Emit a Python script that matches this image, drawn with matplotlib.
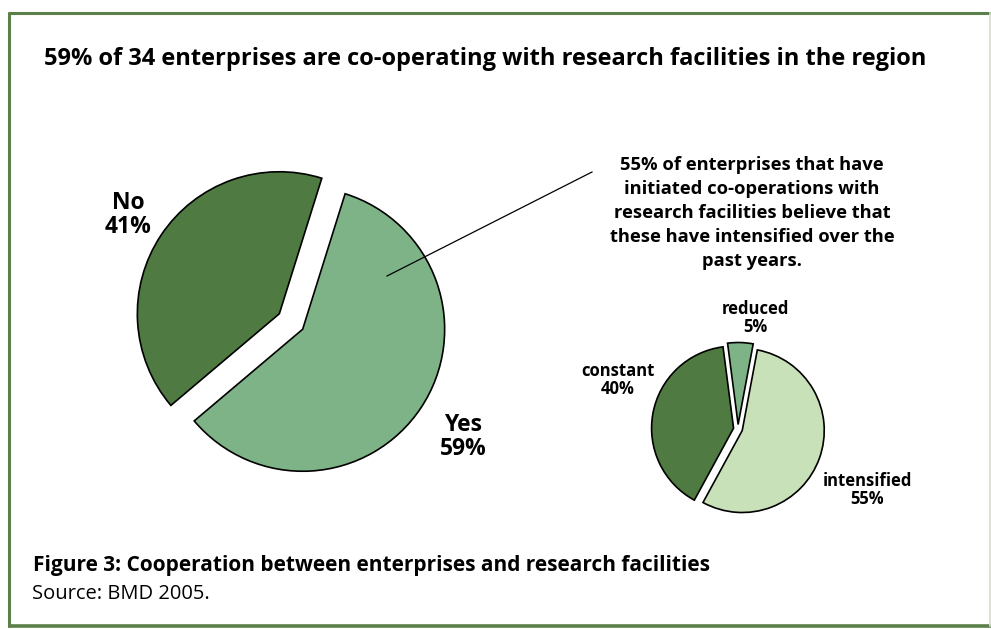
import matplotlib
matplotlib.use("Agg")
import matplotlib.pyplot as plt
from matplotlib.lines import Line2D

plt.rcParams['font.family'] = ['Open Sans', 'DejaVu Sans']

# ---- data ----
title = "59% of 34 enterprises are co-operating with research facilities in the region"
main_labels = ["Yes", "No"]
main_values = [59, 41]
sub_labels = ["intensified", "constant", "reduced"]
sub_values = [55, 40, 5]
annotation = ("55% of enterprises that have\ninitiated co-operations with\n"
              "research facilities believe that\nthese have intensified over the\npast years.")
caption = "Figure 3: Cooperation between enterprises and research facilities"
source = "Source: BMD 2005."

W, H = 991, 629
fig = plt.figure(figsize=(W / 100, H / 100), dpi=100)
ax = fig.add_axes([0, 0, 1, 1])

def Y(y):
    return H - y

dark = "#4f7a41"
mid = "#7eb387"
light = "#c8e1b9"
edge_kw = dict(edgecolor="black", linewidth=1.2)

# big pie
ax.pie(main_values, colors=[mid, dark], startangle=72.6, counterclock=False,
       center=(291, Y(321.5)), radius=142, explode=[14, 14],
       wedgeprops=edge_kw)
# small pie
ax.pie(sub_values, colors=[light, dark, mid], startangle=79.4, counterclock=False,
       center=(738, Y(429)), radius=82, explode=[4.5, 4.5, 4.5],
       wedgeprops=edge_kw)

ax.set_xlim(0, W)
ax.set_ylim(0, H)
ax.set_aspect('equal')
ax.axis('off')

# frame
green = "#5b8049"
ax.add_line(Line2D([9, 9], [Y(12), Y(626.5)], color=green, lw=2.2, solid_capstyle='butt'))
ax.add_line(Line2D([8, W + 5], [Y(13), Y(13)], color=green, lw=2.2, solid_capstyle='butt'))
ax.add_line(Line2D([8, W + 5], [Y(626), Y(626)], color=green, lw=2.6, solid_capstyle='butt'))
ax.add_line(Line2D([990, 990], [Y(13), Y(626)], color="#d9dcd0", lw=1.2))

# texts
ax.text(44, Y(59), title, fontsize=17, fontweight='bold', ha='left', va='center')
ax.text(128, Y(215), f"{main_labels[1]}\n{main_values[1]}%", fontsize=16.5, fontweight='bold',
        ha='center', va='center', linespacing=1.0)
ax.text(463, Y(437), f"{main_labels[0]}\n{main_values[0]}%", fontsize=16.5, fontweight='bold',
        ha='center', va='center', linespacing=1.0)
ax.text(755, Y(318), f"{sub_labels[2]}\n{sub_values[2]}%", fontsize=12, fontweight='bold',
        ha='center', va='center', linespacing=1.05)
ax.text(618, Y(380), f"{sub_labels[1]}\n{sub_values[1]}%", fontsize=12, fontweight='bold',
        ha='center', va='center', linespacing=1.05)
ax.text(867, Y(490), f"{sub_labels[0]}\n{sub_values[0]}%", fontsize=12, fontweight='bold',
        ha='center', va='center', linespacing=1.05)
ax.text(752, Y(213), annotation, fontsize=13.2, fontweight='bold', ha='center', va='center',
        linespacing=1.42)
ax.add_line(Line2D([387, 592], [Y(276), Y(172)], color="black", lw=0.9))

ax.text(33, Y(566), caption, fontsize=15, fontweight='bold', ha='left', va='center')
ax.text(32, Y(594), source, fontsize=14.5, ha='left', va='center')

fig.savefig("out.png", dpi=100)
